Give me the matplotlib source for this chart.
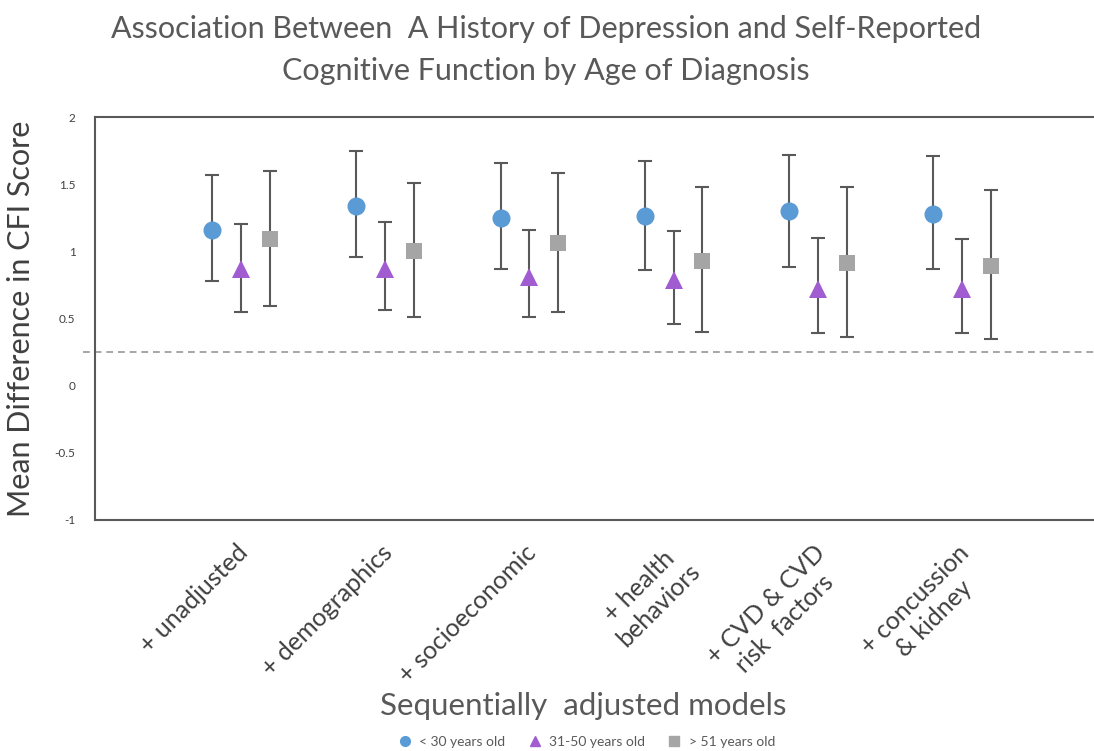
import numpy as np
import matplotlib
matplotlib.use("Agg")
import matplotlib.pyplot as plt
import matplotlib.transforms as mtransforms
from matplotlib.lines import Line2D

plt.rcParams['font.family'] = ['Lato', 'DejaVu Sans']

# ---------------- Data ----------------
models = ["+ unadjusted", "+ demographics", "+ socioeconomic",
          "+ health\nbehaviors", "+ CVD & CVD\nrisk  factors", "+ concussion\n& kidney"]

under30 = [1.16, 1.34, 1.25, 1.26, 1.30, 1.28]
under30_lo = [0.78, 0.96, 0.87, 0.86, 0.88, 0.87]
under30_hi = [1.57, 1.75, 1.66, 1.67, 1.72, 1.71]

mid = [0.87, 0.87, 0.81, 0.79, 0.72, 0.72]
mid_lo = [0.55, 0.56, 0.51, 0.46, 0.39, 0.39]
mid_hi = [1.20, 1.22, 1.16, 1.15, 1.10, 1.09]

over51 = [1.09, 1.00, 1.06, 0.93, 0.91, 0.89]
over51_lo = [0.59, 0.51, 0.55, 0.40, 0.36, 0.35]
over51_hi = [1.60, 1.51, 1.58, 1.48, 1.48, 1.46]

ref_line = 0.25
series = ["< 30 years old", "31-50 years old", "> 51 years old"]

# ---------------- Plot ----------------
fig = plt.figure(figsize=(10.94, 7.51), dpi=100)
ax = fig.add_axes([95 / 1094, 1 - 520 / 751, 1 - 95 / 1094, (520 - 117) / 751])

x = np.arange(len(models))
styles = [
    (under30, under30_lo, under30_hi, -0.2, "o", "#5B9BD5", 13),
    (mid, mid_lo, mid_hi, 0.0, "^", "#A05CD0", 13),
    (over51, over51_lo, over51_hi, 0.2, "s", "#A5A5A5", 12),
]
for vals, lo, hi, off, mk, col, ms in styles:
    vals = np.array(vals)
    err = [vals - np.array(lo), np.array(hi) - vals]
    ax.errorbar(x + off, vals, yerr=err, fmt="none", ecolor="#595959",
                elinewidth=1.5, capsize=5, capthick=1.5, zorder=2)
    ax.plot(x + off, vals, linestyle="none", marker=mk, color=col,
            markersize=ms, markeredgewidth=0, zorder=3)

# dashed reference line, running slightly past the y axis
ax.plot([-0.012, 1.0], [ref_line, ref_line], transform=ax.get_yaxis_transform(),
        color="#A6A6A6", linestyle=(0, (3.5, 2.5)), linewidth=1.4, clip_on=False, zorder=1)

ax.set_xlim(-1.012, 5.915)
ax.set_ylim(-1, 2)
ax.set_yticks([-1, -0.5, 0, 0.5, 1, 1.5, 2])
ax.set_yticklabels(["-1", "-0.5", "0", "0.5", "1", "1.5", "2"])
ax.tick_params(axis="y", length=0, pad=14, labelsize=8.5, labelcolor="#404040")

ax.set_xticks(x)
ax.set_xticklabels(models, rotation=45, ha="right", va="top",
                   rotation_mode="anchor", multialignment="center",
                   fontsize=18, color="#404040")
ax.tick_params(axis="x", length=0, pad=15)
shift = mtransforms.ScaledTranslation(-5 / 100, 0, fig.dpi_scale_trans)
for lbl in ax.get_xticklabels():
    lbl.set_transform(lbl.get_transform() + shift)

for side in ["left", "top", "bottom"]:
    ax.spines[side].set_color("#595959")
    ax.spines[side].set_linewidth(1.5)
ax.spines["right"].set_visible(False)

ax.set_ylabel("Mean Difference in CFI Score", fontsize=22, color="#404040", labelpad=14)

fig.text(0.499, 0.962, "Association Between  A History of Depression and Self-Reported",
         ha="center", va="center", fontsize=22, color="#595959")
fig.text(0.499, 0.906, "Cognitive Function by Age of Diagnosis",
         ha="center", va="center", fontsize=22, color="#595959")
fig.text(0.533, 0.06, "Sequentially  adjusted models", ha="center", va="center",
         fontsize=22.5, color="#595959")

handles = [
    Line2D([], [], linestyle="none", marker="o", color="#5B9BD5", markersize=7),
    Line2D([], [], linestyle="none", marker="^", color="#A05CD0", markersize=7),
    Line2D([], [], linestyle="none", marker="s", color="#A5A5A5", markersize=7),
]
fig.legend(handles, series, loc="center", bbox_to_anchor=(0.533, 0.012), ncol=3,
           frameon=False, fontsize=10, handletextpad=0.05, columnspacing=1.1,
           labelcolor="#595959")

fig.savefig("out.png", dpi=100)
